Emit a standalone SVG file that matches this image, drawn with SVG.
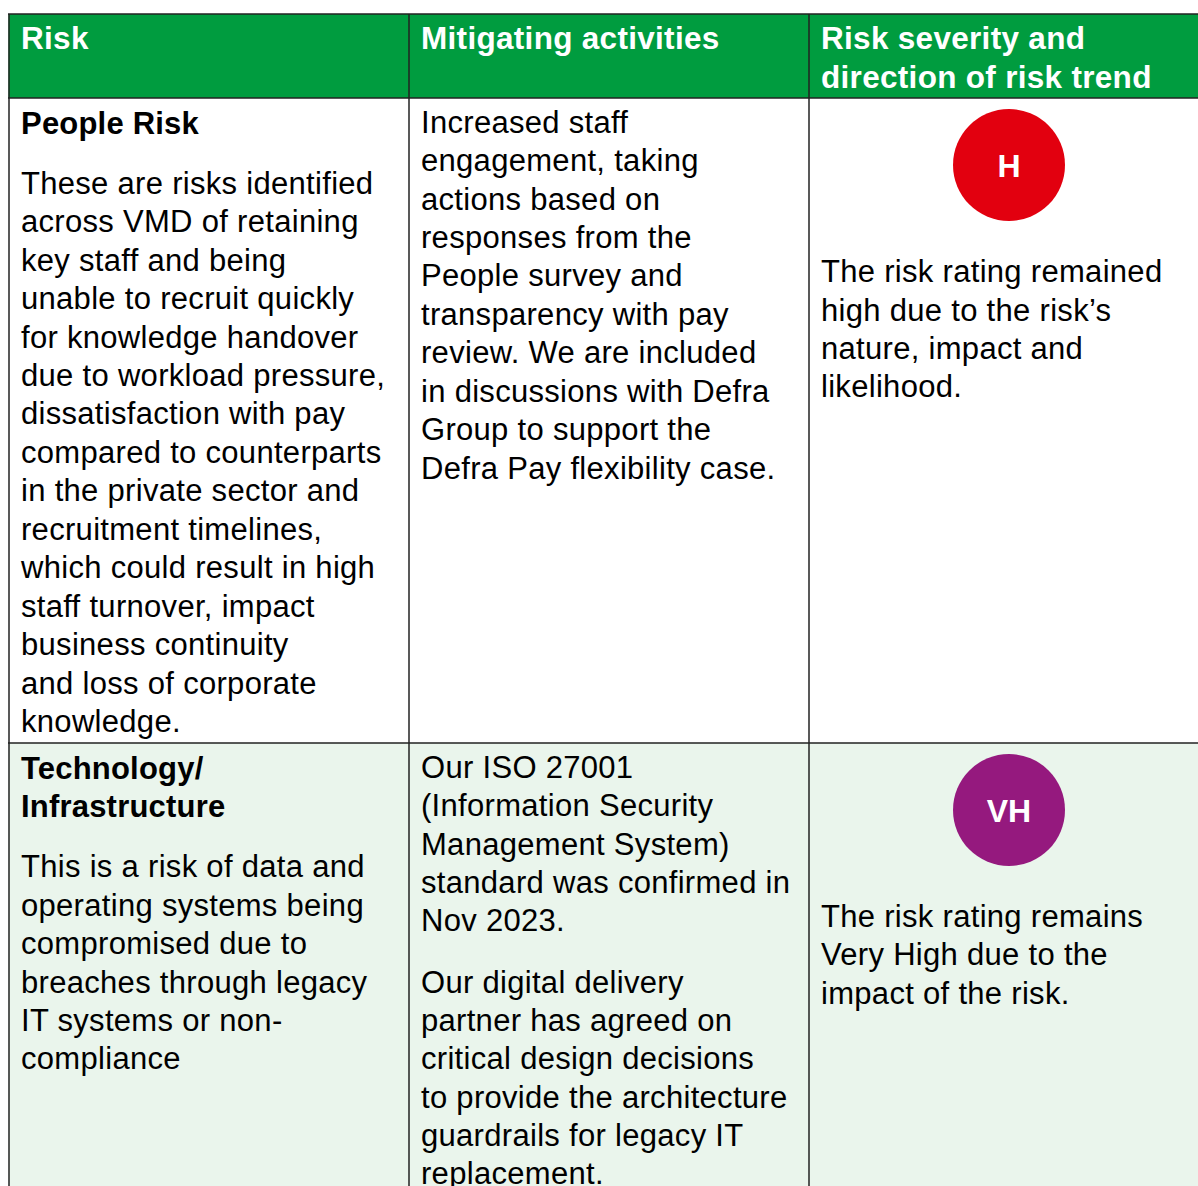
<svg xmlns="http://www.w3.org/2000/svg" width="1198" height="1186" viewBox="0 0 1198 1186">
<style>
.t{font-family:"Liberation Sans",Arial,sans-serif;font-size:31px;letter-spacing:0.3px;fill:#000}
.b{font-weight:bold;letter-spacing:0.2px}
.h{font-family:"Liberation Sans",Arial,sans-serif;font-size:31.5px;letter-spacing:0.3px;font-weight:bold;fill:#fff}
.c{font-family:"Liberation Sans",Arial,sans-serif;font-size:32px;font-weight:bold;fill:#fff;text-anchor:middle}
.ln{stroke:#222;stroke-width:1.5;fill:none}
</style>
<rect x="0" y="0" width="1198" height="1186" fill="#fff"/>
<g id="header">
<rect x="8.5" y="14" width="1190" height="84" fill="#009c3f"/>
<text class="h" x="21" y="49">Risk</text>
<text class="h" x="421" y="49">Mitigating activities</text>
<text class="h" x="821" y="49">Risk severity and</text>
<text class="h" x="821" y="88">direction of risk trend</text>
</g>
<rect x="8.5" y="743" width="1190" height="443" fill="#eaf5ec"/>
<g id="grid">
<line class="ln" x1="8" y1="14" x2="1198" y2="14" stroke-width="2"/>
<line class="ln" x1="8" y1="98" x2="1198" y2="98" stroke-width="2"/>
<line class="ln" x1="8" y1="743" x2="1198" y2="743" stroke="#555"/>
<line class="ln" x1="9" y1="14" x2="9" y2="1186"/>
<line class="ln" x1="409" y1="14" x2="409" y2="1186"/>
<line class="ln" x1="809" y1="14" x2="809" y2="1186"/>
</g>
<g id="people-risk">
<text class="t b" x="21" y="134">People Risk</text>
<text class="t" x="21" y="194">These are risks identified</text>
<text class="t" x="21" y="232">across VMD of retaining</text>
<text class="t" x="21" y="271">key staff and being</text>
<text class="t" x="21" y="309">unable to recruit quickly</text>
<text class="t" x="21" y="348">for knowledge handover</text>
<text class="t" x="21" y="386">due to workload pressure,</text>
<text class="t" x="21" y="424">dissatisfaction with pay</text>
<text class="t" x="21" y="463">compared to counterparts</text>
<text class="t" x="21" y="501">in the private sector and</text>
<text class="t" x="21" y="540">recruitment timelines,</text>
<text class="t" x="21" y="578">which could result in high</text>
<text class="t" x="21" y="617">staff turnover, impact</text>
<text class="t" x="21" y="655">business continuity</text>
<text class="t" x="21" y="694">and loss of corporate</text>
<text class="t" x="21" y="732">knowledge.</text>
</g>
<g id="people-mitigation">
<text class="t" x="421" y="133">Increased staff</text>
<text class="t" x="421" y="171">engagement, taking</text>
<text class="t" x="421" y="210">actions based on</text>
<text class="t" x="421" y="248">responses from the</text>
<text class="t" x="421" y="286">People survey and</text>
<text class="t" x="421" y="325">transparency with pay</text>
<text class="t" x="421" y="363">review. We are included</text>
<text class="t" x="421" y="402">in discussions with Defra</text>
<text class="t" x="421" y="440">Group to support the</text>
<text class="t" x="421" y="479">Defra Pay flexibility case.</text>
</g>
<g id="people-severity">
<circle cx="1009" cy="165" r="56" fill="#e2000f"/>
<text class="c" x="1009" y="177">H</text>
<text class="t" x="821" y="282">The risk rating remained</text>
<text class="t" x="821" y="321">high due to the risk’s</text>
<text class="t" x="821" y="359">nature, impact and</text>
<text class="t" x="821" y="397">likelihood.</text>
</g>
<g id="tech-risk">
<text class="t b" x="21" y="779">Technology/</text>
<text class="t b" x="21" y="817">Infrastructure</text>
<text class="t" x="21" y="877">This is a risk of data and</text>
<text class="t" x="21" y="916">operating systems being</text>
<text class="t" x="21" y="954">compromised due to</text>
<text class="t" x="21" y="993">breaches through legacy</text>
<text class="t" x="21" y="1031">IT systems or non-</text>
<text class="t" x="21" y="1069">compliance</text>
</g>
<g id="tech-mitigation">
<text class="t" x="421" y="778">Our ISO 27001</text>
<text class="t" x="421" y="816">(Information Security</text>
<text class="t" x="421" y="855">Management System)</text>
<text class="t" x="421" y="893">standard was confirmed in</text>
<text class="t" x="421" y="931">Nov 2023.</text>
<text class="t" x="421" y="993">Our digital delivery</text>
<text class="t" x="421" y="1031">partner has agreed on</text>
<text class="t" x="421" y="1069">critical design decisions</text>
<text class="t" x="421" y="1108">to provide the architecture</text>
<text class="t" x="421" y="1146">guardrails for legacy IT</text>
<text class="t" x="421" y="1184">replacement.</text>
</g>
<g id="tech-severity">
<circle cx="1009" cy="810" r="56" fill="#95197e"/>
<text class="c" x="1009" y="822">VH</text>
<text class="t" x="821" y="927">The risk rating remains</text>
<text class="t" x="821" y="965">Very High due to the</text>
<text class="t" x="821" y="1004">impact of the risk.</text>
</g>
</svg>
